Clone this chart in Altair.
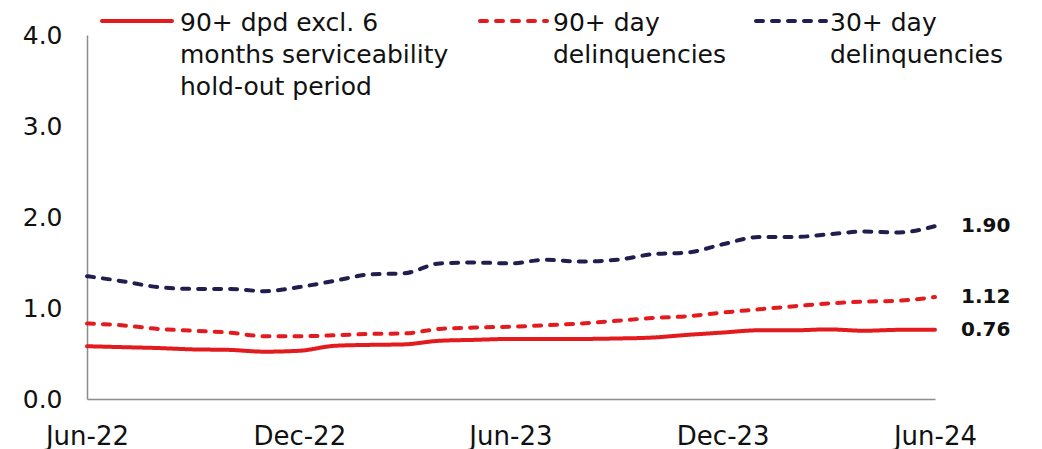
import altair as alt
import pandas as pd

months = pd.date_range("2022-06-01", "2024-06-01", freq="MS").strftime("%Y-%m-%dT00:00:00").tolist()

s_excl = "90+ dpd excl. 6 months serviceability hold-out period"
s_90 = "90+ day delinquencies"
s_30 = "30+ day delinquencies"

excl_vals = [0.58, 0.57, 0.56, 0.545, 0.54, 0.52, 0.53, 0.585, 0.595, 0.60, 0.64, 0.65, 0.66,
             0.66, 0.66, 0.665, 0.675, 0.705, 0.73, 0.755, 0.755, 0.765, 0.75, 0.76, 0.76]
d90_vals = [0.83, 0.81, 0.77, 0.75, 0.73, 0.69, 0.69, 0.70, 0.715, 0.72, 0.77, 0.785, 0.795,
            0.81, 0.83, 0.86, 0.89, 0.91, 0.95, 0.985, 1.02, 1.05, 1.07, 1.08, 1.12]
d30_vals = [1.35, 1.295, 1.23, 1.21, 1.21, 1.185, 1.23, 1.30, 1.37, 1.38, 1.49, 1.50, 1.49,
            1.53, 1.51, 1.53, 1.59, 1.61, 1.70, 1.78, 1.78, 1.81, 1.84, 1.83, 1.90]

series = [s_excl, s_90, s_30]
colors = ["#E31B1F", "#E31B1F", "#1F1E4F"]
dashes = [[1, 0], [7, 9], [7, 9]]
legend_lines = [
    ["90+ dpd excl. 6", "months serviceability", "hold-out period"],
    ["90+ day", "delinquencies"],
    ["30+ day", "delinquencies"],
]
tick_dates = ["2022-06", "2022-12", "2023-06", "2023-12", "2024-06"]

rows = []
for name, vals in zip(series, [excl_vals, d90_vals, d30_vals]):
    for m, v in zip(months, vals):
        rows.append({"month": m, "value": v, "series": name})
df = pd.DataFrame(rows)
last = df[df["month"] == months[-1]].copy()

FONT = "DejaVu Sans"
TXT = "#111111"

color_scale = alt.Scale(domain=series, range=colors)
dash_scale = alt.Scale(domain=series, range=dashes)

x_enc = alt.X(
    "month:T",
    scale=alt.Scale(domain=[months[0], months[-1]]),
    axis=alt.Axis(
        values=[alt.DateTime(year=int(t[:4]), month=int(t[5:]), date=1) for t in tick_dates],
        format="%b-%y", title=None, grid=False, ticks=False, labelFlush=False,
        labelPadding=24, labelFontSize=26, labelFont=FONT, labelColor=TXT,
        domainColor="#8C8C8C", domainWidth=1.5,
    ),
)
y_enc = alt.Y(
    "value:Q",
    scale=alt.Scale(domain=[0, 4]),
    axis=alt.Axis(
        values=[0, 1, 2, 3, 4], format=".1f", title=None, grid=False, ticks=False,
        labelPadding=25, labelFontSize=25, labelFont=FONT, labelColor=TXT,
        domainColor="#8C8C8C", domainWidth=1.5,
    ),
)

lines = alt.Chart(df).mark_line(strokeWidth=4, strokeCap="round", interpolate="monotone").encode(
    x=x_enc,
    y=y_enc,
    color=alt.Color("series:N", scale=color_scale, legend=None),
    strokeDash=alt.StrokeDash("series:N", scale=dash_scale, legend=None),
    detail="series:N",
)

end_labels = alt.Chart(last).mark_text(
    align="left", baseline="middle", dx=26, fontSize=20, fontWeight="bold", font=FONT, color=TXT
).encode(
    x="month:T",
    y="value:Q",
    text=alt.Text("value:Q", format=".2f"),
)

# hand-built legend (symbol + wrapped label per series), placed above the lines
legend_layout = [(15, 85, 93), (393, 460, 466), (669, 739, 743)]
legend_layers = []
for name, lab, (x0, x1, xt) in zip(series, legend_lines, legend_layout):
    src = alt.Chart(pd.DataFrame({"series": [name]}))
    legend_layers.append(
        src.mark_rule(strokeWidth=4, strokeCap="round").encode(
            x=alt.value(x0), x2=alt.value(x1), y=alt.value(-14),
            color=alt.Color("series:N", scale=color_scale, legend=None),
            strokeDash=alt.StrokeDash("series:N", scale=dash_scale, legend=None),
        )
    )
    legend_layers.append(
        src.mark_text(align="left", baseline="alphabetic", fontSize=25, font=FONT,
                      color=TXT, lineHeight=32).encode(
            x=alt.value(xt), y=alt.value(-4), text=alt.value(lab),
        )
    )

chart = alt.layer(lines, end_labels, *legend_layers).properties(
    width=848, height=364,
    autosize=alt.AutoSizeParams(type="none"),
    padding={"left": 79, "top": 27, "right": 99, "bottom": 50},
).configure_view(stroke=None)

chart.save("out.html", embed_options={"renderer": "svg", "actions": False})
